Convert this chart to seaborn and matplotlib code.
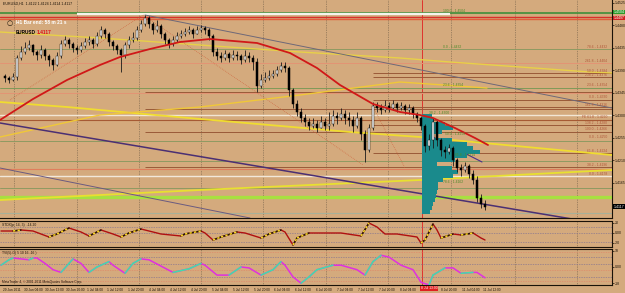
import numpy as np
import matplotlib
matplotlib.use("Agg")
import matplotlib.pyplot as plt
import seaborn as sns
from matplotlib import font_manager

sns.set_style("white")
plt.rcParams['font.family'] = ['DejaVu Sans']

_names = {f.name for f in font_manager.fontManager.ttflist}
NARROW = ["Liberation Sans Narrow"] if "Liberation Sans Narrow" in _names else ["Liberation Sans"]
NARROW = NARROW + ["DejaVu Sans"]

BG = "#d4aa7d"

# ---------------- data ----------------
open0 = 1.4378
closes = [1.4374, 1.4370, 1.4376, 1.4414, 1.4426, 1.4434, 1.4440, 1.4426, 1.4420, 1.4430,
          1.4418, 1.4410, 1.4400, 1.4418, 1.4442, 1.4450, 1.4442, 1.4434, 1.4430, 1.4438,
          1.4446, 1.4450, 1.4442, 1.4458, 1.4470, 1.4462, 1.4446, 1.4438, 1.4430, 1.4420,
          1.4440, 1.4450, 1.4454, 1.4470, 1.4482, 1.4494, 1.4482, 1.4470, 1.4478, 1.4462,
          1.4450, 1.4442, 1.4450, 1.4458, 1.4462, 1.4466, 1.4470, 1.4462, 1.4470, 1.4474,
          1.4470, 1.4458, 1.4426, 1.4418, 1.4414, 1.4422, 1.4414, 1.4420, 1.4418, 1.4410,
          1.4418, 1.4414, 1.4406, 1.4358, 1.4370, 1.4374, 1.4378, 1.4382, 1.4390, 1.4398,
          1.4394, 1.4350, 1.4322, 1.4306, 1.4294, 1.4286, 1.4278, 1.4282, 1.4274, 1.4286,
          1.4278, 1.4282, 1.4298, 1.4294, 1.4302, 1.4294, 1.4290, 1.4278, 1.4294, 1.4262,
          1.4230, 1.4274, 1.4318, 1.4314, 1.4310, 1.4318, 1.4314, 1.4322, 1.4314, 1.4318,
          1.4310, 1.4314, 1.4302, 1.4294, 1.4278, 1.4238, 1.4250, 1.4286, 1.4250, 1.4230,
          1.4226, 1.4234, 1.4210, 1.4194, 1.4190, 1.4198, 1.4182, 1.4170, 1.4134, 1.4122,
          1.4117]
highs = [1.4382, 1.4378, 1.4384, 1.4420, 1.4438, 1.4446, 1.4450, 1.4442, 1.4430, 1.4440,
         1.4434, 1.4422, 1.4414, 1.4426, 1.4450, 1.4458, 1.4454, 1.4446, 1.4440, 1.4446,
         1.4454, 1.4458, 1.4454, 1.4466, 1.4478, 1.4474, 1.4466, 1.4450, 1.4442, 1.4434,
         1.4446, 1.4458, 1.4466, 1.4478, 1.4490, 1.4500, 1.4498, 1.4486, 1.4490, 1.4482,
         1.4466, 1.4454, 1.4458, 1.4466, 1.4470, 1.4474, 1.4478, 1.4474, 1.4478, 1.4480,
         1.4478, 1.4474, 1.4462, 1.4434, 1.4426, 1.4430, 1.4426, 1.4430, 1.4428, 1.4422,
         1.4430, 1.4426, 1.4420, 1.4414, 1.4382, 1.4386, 1.4390, 1.4390, 1.4398, 1.4406,
         1.4406, 1.4398, 1.4354, 1.4330, 1.4314, 1.4302, 1.4294, 1.4294, 1.4290, 1.4298,
         1.4294, 1.4306, 1.4310, 1.4306, 1.4314, 1.4310, 1.4306, 1.4298, 1.4306, 1.4298,
         1.4270, 1.4282, 1.4326, 1.4326, 1.4322, 1.4330, 1.4326, 1.4330, 1.4326, 1.4326,
         1.4322, 1.4322, 1.4318, 1.4306, 1.4298, 1.4282, 1.4262, 1.4294, 1.4290, 1.4254,
         1.4238, 1.4242, 1.4238, 1.4214, 1.4202, 1.4206, 1.4202, 1.4190, 1.4178, 1.4142,
         1.4130]
lows = [1.4366, 1.4364, 1.4368, 1.4370, 1.4410, 1.4422, 1.4430, 1.4420, 1.4410, 1.4414,
        1.4410, 1.4398, 1.4390, 1.4398, 1.4414, 1.4438, 1.4434, 1.4426, 1.4422, 1.4426,
        1.4434, 1.4440, 1.4434, 1.4438, 1.4454, 1.4454, 1.4438, 1.4430, 1.4422, 1.4386,
        1.4414, 1.4434, 1.4446, 1.4450, 1.4466, 1.4478, 1.4474, 1.4462, 1.4466, 1.4454,
        1.4442, 1.4434, 1.4438, 1.4446, 1.4454, 1.4458, 1.4462, 1.4454, 1.4462, 1.4466,
        1.4462, 1.4450, 1.4418, 1.4410, 1.4406, 1.4410, 1.4406, 1.4410, 1.4410, 1.4402,
        1.4406, 1.4406, 1.4390, 1.4346, 1.4354, 1.4366, 1.4370, 1.4374, 1.4378, 1.4386,
        1.4386, 1.4338, 1.4314, 1.4298, 1.4286, 1.4278, 1.4270, 1.4274, 1.4266, 1.4274,
        1.4270, 1.4270, 1.4278, 1.4282, 1.4290, 1.4282, 1.4278, 1.4266, 1.4274, 1.4250,
        1.4206, 1.4226, 1.4270, 1.4306, 1.4302, 1.4306, 1.4306, 1.4310, 1.4306, 1.4310,
        1.4302, 1.4302, 1.4294, 1.4286, 1.4270, 1.4226, 1.4230, 1.4234, 1.4238, 1.4218,
        1.4214, 1.4222, 1.4198, 1.4186, 1.4178, 1.4186, 1.4174, 1.4162, 1.4126, 1.4114,
        1.4110]

# moving average (red)
ma_x = [-1.25, 7, 15.5, 23.75, 28.75, 36.25, 43.75, 51.25, 63, 71.25, 78, 83.75, 92,
        98.75, 103.75, 107, 112.5, 117.5, 120.75]
ma_y = [1.4290, 1.4332, 1.4370, 1.4400, 1.4416, 1.4432, 1.4446, 1.4452, 1.4444, 1.4424,
        1.4394, 1.4360, 1.4322, 1.4306, 1.4300, 1.4294, 1.4274, 1.4254, 1.4240]

# yellow envelope curves
ya_x = [-1.25, 23.75, 48.75, 73.75, 98.75, 111.25, 146.25, 151.75]
ya_y = [1.4466, 1.4454, 1.4440, 1.4426, 1.4414, 1.4406, 1.4386, 1.4384]
yb_x = [-1.25, 15.5, 32, 48.75, 86.25, 103.75, 151.75]
yb_y = [1.4326, 1.4316, 1.4304, 1.4292, 1.4266, 1.4256, 1.4220]
yc_x = [-1.25, 23.75, 48.75, 73.75, 98.75, 120.5]
yc_y = [1.4256, 1.4300, 1.4316, 1.4340, 1.4366, 1.4354]
yd_x = [-1.25, 48.75, 103.75, 151.75]
yd_y = [1.4130, 1.4150, 1.4170, 1.4190]

# trend lines (x0, y0, x1, y1, colour, width, style)
trend_lines = [
    (-1.25, 1.4284, 146.25, 1.4086, "#4b2f73", 1.1, "-"),
    (35.0, 1.4500, 151.75, 1.4314, "#6e6878", 0.7, "-"),
    (-1.25, 1.4194, 61.25, 1.4094, "#6a5a80", 0.7, "-"),
    (107.0, 1.4256, 119.25, 1.4206, "#4b2f8a", 0.8, "-"),
    (1.25, 1.4330, 34.5, 1.4500, "#d0603a", 0.5, ":"),
    (34.5, 1.4500, 89.5, 1.4200, "#d0603a", 0.5, ":"),
    (91.75, 1.4320, 100.0, 1.4194, "#d0603a", 0.5, ":"),
]

# horizontal levels spanning the whole chart
full_levels = [1.4504, 1.4497, 1.4493, 1.4432, 1.4404, 1.4354, 1.4344, 1.4300, 1.4290,
               1.4248, 1.4208, 1.4192, 1.4178, 1.4154, 1.4136, 1.4104]
full_colors = ["#3f8f3a", "#d8302a", "#e0603a", "#8e9a62", "#e39474", "#7f9a58", "#e39474",
               "#f2e6d4", "#a65a34", "#8e9a62", "#8e9a62", "#e07e5c", "#f2e8da", "#8e9a62",
               "#a8e040", "#a8b098"]
full_widths = [1.2, 1.0, 1.0, 0.7, 0.7, 0.7, 0.7, 1.0, 0.8, 0.7, 0.7, 0.8, 1.0, 0.7, 2.4, 0.8]
# fibonacci lines starting mid-chart
fib1_levels = [1.4346, 1.4312, 1.4266, 1.4196]
fib2_levels = [1.4384, 1.4376, 1.4330, 1.4316, 1.4280, 1.4224]
fib_right_labels = ["78.6", "261.8", "50.0", "238.2", "23.6", "0.0", "161.8", "FE 61.8",
                    "138.2", "100.0", "0.0", "61.8", "38.2", "0.0"]
fib_right_levels = [1.4432, 1.4404, 1.4384, 1.4376, 1.4354, 1.4330, 1.4316, 1.4290,
                    1.4280, 1.4266, 1.4250, 1.4224, 1.4196, 1.4178]
fib_mid_labels = ["100.0", "0.0", "23.6", "38.2", "50.0", "61.8", "78.6"]
fib_mid_levels = [1.4504, 1.4432, 1.4354, 1.4300, 1.4258, 1.4214, 1.4162]
fib_mid_x = [109.5, 109.5, 109.5, 106.0, 110.0, 112.5, 109.5]

# volume profile
prof_price = [1.4298, 1.4290, 1.4282, 1.4274, 1.4266, 1.4258, 1.4250, 1.4242, 1.4234,
              1.4226, 1.4218, 1.4210, 1.4202, 1.4194, 1.4186, 1.4178, 1.4170, 1.4162,
              1.4154, 1.4146, 1.4138, 1.4130, 1.4122, 1.4114, 1.4106]
prof_vol = [10, 12, 23, 31, 20, 11, 30, 45, 51, 58, 45, 33, 15, 30, 36, 31, 21, 16,
            16, 15, 14, 13, 11, 10, 8]

# oscillator 1 (red / yellow)
o1_x = [-1, 2, 4, 7, 9, 11, 13, 16, 19, 21, 24, 27, 29, 31, 34, 36, 39, 44, 45, 49, 50, 52,
        54, 58, 60, 64, 66, 69, 70, 72, 73, 76, 79, 84, 89, 91, 93, 95, 98, 103, 104, 105,
        107, 108, 109, 112, 114, 117, 119, 120]
o1_y = [4, 4, 6, 4, -2, -8, -2, 10, 2, -6, 6, -2, -8, 0, 8, 4, -2, -6, -2, 4, 0, -14,
        -8, 2, 0, -10, -2, 6, 2, -24, -10, 0, 0, 0, -6, 20, 12, -2, -2, -8, -20, -14,
        18, 6, -10, -2, -4, 0, -10, -14]
o1_levels = [12, 0, -18]

# oscillator 2 (magenta / green)
o2_x = [-1, 1, 2, 4, 6, 7, 8, 10, 12, 14, 16, 17, 19, 21, 23, 26, 27, 30, 32, 34, 36, 39,
        42, 46, 49, 50, 53, 56, 59, 61, 64, 67, 69, 70, 72, 74, 76, 78, 82, 84, 88, 90,
        92, 94, 96, 99, 102, 104, 106, 107, 110, 112, 114, 117, 118, 120]
o2_y = [2, 8, 10, 9, 8, 10, 10, 4, -3, -6, 4, 9, 4, -6, 0, 6, 2, -7, 4, 9, 8, 1, -6, -2,
        4, 2, -9, -9, 0, -1, -9, -3, 6, 2, -11, -18, -11, -3, 2, 2, -3, -9, 6, 13, 11, 2,
        -3, -17, -20, -9, -1, -1, -7, -6, -6, -12]
o2_levels = [16.7, 11, 3.3, -3.3, -11, -15.6]
o2_level_colors = ["#e08a6a", "#8a7890", "#8a7890", "#e08a6a", "#8a7890", "#e08a6a"]

price_ticks = [1.4525, 1.4480, 1.4435, 1.4390, 1.4345, 1.4300, 1.4255, 1.4210, 1.4165]
time_labels = ["29 Jun 2011", "30 Jun 04:00", "30 Jun 12:00", "30 Jun 20:00", "1 Jul 04:00",
               "1 Jul 12:00", "1 Jul 20:00", "4 Jul 04:00", "4 Jul 12:00", "4 Jul 20:00",
               "5 Jul 04:00", "5 Jul 12:00", "5 Jul 20:00", "6 Jul 04:00", "6 Jul 12:00",
               "6 Jul 20:00", "7 Jul 04:00", "7 Jul 12:00", "7 Jul 20:00", "8 Jul 04:00",
               "8 Jul 12:00", "8 Jul 20:00", "11 Jul 04:00", "11 Jul 12:00"]
time_pos = [-0.5 + 5.22 * k for k in range(len(time_labels))]
hidden_label = "8 Jul 12:00"   # covered by the cursor time box in the original
day_separators = [2.25, 18, 33.5, 49, 64.5, 80.25, 95.75, 111.5, 127.5, 143]
cursor_x = 104.25
cursor_label = "8 Jul 13:00"
bid = 1.4117

# ---------------- figure ----------------
W, H = 625, 293
fig = plt.figure(figsize=(W / 100, H / 100), dpi=100, facecolor=BG)

def axpix(top, bottom):
    return [0, (H - bottom) / H, 612 / W, (bottom - top) / H]

ax = fig.add_axes(axpix(0, 218))
ax1 = fig.add_axes(axpix(221, 247), sharex=ax)
ax2 = fig.add_axes(axpix(249, 285), sharex=ax)
XL = (-1.25, 151.75)
DARK = "#1a1208"

for a in (ax, ax1, ax2):
    a.set_facecolor(BG)
    a.spines["left"].set_visible(False)
    for s in ("right", "bottom", "top"):
        a.spines[s].set_color(DARK)
        a.spines[s].set_linewidth(0.8)
    a.yaxis.tick_right()
    a.tick_params(axis="y", labelsize=2.5, length=1.5, width=0.5, pad=0.8, colors=DARK)
    for xs in day_separators:
        a.axvline(xs, color="#6b5a45", lw=0.5, ls=(0, (1, 1.5)), zorder=1)
    a.axvline(cursor_x, color="#e02020", lw=0.6, zorder=2)
ax.spines["top"].set_visible(False)

ax.set_xlim(*XL)
ax.set_ylim(1.4094, 1.4530)

# horizontal levels
for lv, c, w in zip(full_levels, full_colors, full_widths):
    ax.axhline(lv, color=c, lw=w, zorder=2)
ax.hlines(1.4502, 18, 111.25, color="#f4f4ec", lw=1.6, zorder=2)
for lv in fib1_levels:
    ax.hlines(lv, 35, XL[1], color="#9a5a38", lw=0.7, zorder=2)
for lv in fib2_levels:
    ax.hlines(lv, 92, XL[1], color="#9a5a38", lw=0.7, zorder=2)

# yellow curves
for xs, ys, c, w in [(ya_x, ya_y, "#e8d048", 1.0), (yb_x, yb_y, "#f0dc30", 1.3),
                     (yc_x, yc_y, "#f0c838", 1.0), (yd_x, yd_y, "#e8e030", 1.3)]:
    sns.lineplot(x=xs, y=ys, ax=ax, color=c, lw=w, zorder=3, estimator=None, sort=False)

# trend lines
for x0, y0, x1, y1, c, w, st in trend_lines:
    ax.plot([x0, x1], [y0, y1], color=c, lw=w, ls=st, zorder=3)

# volume profile
ax.barh(prof_price, np.array(prof_vol) * 0.25, left=cursor_x, height=0.0008,
        color="#1a8a8c", edgecolor="none", zorder=4, align="center")

# candles
c = np.array(closes)
o = np.array([open0] + closes[:-1])
hi = np.array(highs)
lo = np.array(lows)
idx = np.arange(len(c))
up = c >= o
ax.vlines(idx, lo, hi, color="#1a1a1a", lw=0.6, zorder=5)
bb = np.minimum(o, c)
bh = np.maximum(np.abs(c - o), 0.00012)
ax.bar(idx[up], bh[up], bottom=bb[up], width=0.65, color="#f8f8f8", edgecolor="#1a1a1a",
       lw=0.35, zorder=6)
ax.bar(idx[~up], bh[~up], bottom=bb[~up], width=0.65, color="#000000", edgecolor="#000000",
       lw=0.35, zorder=6)

# moving average
sns.lineplot(x=ma_x, y=ma_y, ax=ax, color="#d01818", lw=1.3, zorder=7, estimator=None, sort=False)

# price axis
ax.set_yticks(price_ticks)
ax.set_yticklabels([f"{p:.4f}" for p in price_ticks], family=NARROW)
ax.tick_params(axis="x", bottom=False, labelbottom=False)
ytr = ax.get_yaxis_transform()
box_kw = dict(transform=ytr, fontsize=2.5, color="white", va="center", ha="left",
              clip_on=False, zorder=10, family=NARROW)
ax.text(1.003, bid, f"{bid:.4f}", bbox=dict(boxstyle="square,pad=0.12", fc="black", ec="none"), **box_kw)
ax.text(1.003, full_levels[0] + 0.0002, f"{full_levels[0]:.4f}",
        bbox=dict(boxstyle="square,pad=0.12", fc="#2a9a2a", ec="none"), **box_kw)
ax.text(1.003, full_levels[1] - 0.0003, f"{full_levels[1]:.4f}",
        bbox=dict(boxstyle="square,pad=0.12", fc="#d02020", ec="none"), **box_kw)

# fib labels
for lab, lv in zip(fib_right_labels, fib_right_levels):
    ax.text(150.5, lv + 0.0001, f"{lab} - {lv:.4f}", fontsize=2.4, color="#b0583a",
            ha="right", va="bottom", zorder=8, family=NARROW)
for lab, lv, xx in zip(fib_mid_labels, fib_mid_levels, fib_mid_x):
    ax.text(xx, lv + 0.0001, f"{lab} - {lv:.4f}", fontsize=2.4, color="#4a8a2a",
            ha="left", va="bottom", zorder=8, family=NARROW)

# chart header texts
fig.text(3 / W, 1 - 4 / H, "EURUSD,H1  1.4122 1.4124 1.4114 1.4117", fontsize=2.6,
         color=DARK, va="center", ha="left", family=NARROW)
fig.text(10 / W, 1 - 23 / H, "\u25cb", fontsize=5, color=DARK, va="center", ha="center")
fig.text(16 / W, 1 - 23 / H, "H1 Bar end: 58 m 21 s", fontsize=3.4, color="white",
         fontweight="bold", va="center", ha="left", family=NARROW)
fig.text(16 / W, 1 - 32 / H, "EURUSD", fontsize=3.4, color="black", fontweight="bold",
         va="center", ha="left", family=NARROW)
fig.text(37 / W, 1 - 32 / H, "1.4117", fontsize=3.4, color="#e01010", fontweight="bold",
         va="center", ha="left", family=NARROW)

# ---------------- oscillator 1 ----------------
ax1.set_ylim(-28, 24)
for lv in o1_levels:
    ax1.axhline(lv, color="#8a7890", lw=0.5, ls=(0, (2, 1.5)), zorder=2)
sns.lineplot(x=o1_x, y=o1_y, ax=ax1, color="#b01010", lw=1.0, zorder=4, estimator=None, sort=False)
for k in range(len(o1_x) - 1):
    if o1_y[k + 1] > o1_y[k]:
        ax1.plot(o1_x[k:k + 2], o1_y[k:k + 2], color="#2a1a08", lw=1.1, zorder=5)
        ax1.plot(o1_x[k:k + 2], o1_y[k:k + 2], color="#f8d820", lw=1.1, ls=(0, (1.5, 1.5)), zorder=6)
ax1.set_yticks([20, 0, -20])
ax1.set_yticklabels(["20", "0.00", "-20"], family=NARROW)
ax1.tick_params(axis="x", bottom=False, labelbottom=False)
ax1.text(0.004, 0.86, "STDX(p, 14, 3)  -14.20", transform=ax1.transAxes, fontsize=2.4,
         color=DARK, va="center", ha="left", family=NARROW)

# ---------------- oscillator 2 ----------------
ax2.set_ylim(-20, 20)
for lv, lc in zip(o2_levels, o2_level_colors):
    ax2.axhline(lv, color=lc, lw=0.5, ls=(0, (2, 1.5)), zorder=2)
sns.lineplot(x=o2_x, y=o2_y, ax=ax2, color="#e030e0", lw=1.1, zorder=4, estimator=None, sort=False)
for k in range(len(o2_x) - 1):
    if o2_y[k + 1] > o2_y[k]:
        ax2.plot(o2_x[k:k + 2], o2_y[k:k + 2], color="#40e0a8", lw=1.1, zorder=5)
ax2.set_yticks([18, 0, -18])
ax2.set_yticklabels(["18", "0.00", "-18"], family=NARROW)
shown = [(p, t) for p, t in zip(time_pos, time_labels) if t != hidden_label]
ax2.set_xticks([p for p, _ in shown])
ax2.set_xticklabels([t for _, t in shown], ha="left", family=NARROW)
ax2.tick_params(axis="x", labelsize=2.3, length=1.5, width=0.5, pad=1, colors=DARK)
ax2.set_xlim(*XL)
ax2.text(0.004, 0.9, "TVI(5)-O( 5 10 16 -16 )", transform=ax2.transAxes, fontsize=2.4,
         color=DARK, va="center", ha="left", family=NARROW)
ax2.text(0.004, 0.07, "MetaTrader 4, \u00a9 2001-2011 MetaQuotes Software Corp.",
         transform=ax2.transAxes, fontsize=2.3, color=DARK, va="center", ha="left", family=NARROW)
ax2.text(cursor_x - 0.3, -0.04, cursor_label, transform=ax2.get_xaxis_transform(), fontsize=2.4,
         color="white", ha="left", va="top", family=NARROW,
         bbox=dict(boxstyle="square,pad=0.2", fc="#e02020", ec="none"), clip_on=False, zorder=10)

for a in (ax, ax1, ax2):
    a.set_xlabel("")
    a.set_ylabel("")

fig.savefig("out.png", dpi=100, facecolor=BG)
